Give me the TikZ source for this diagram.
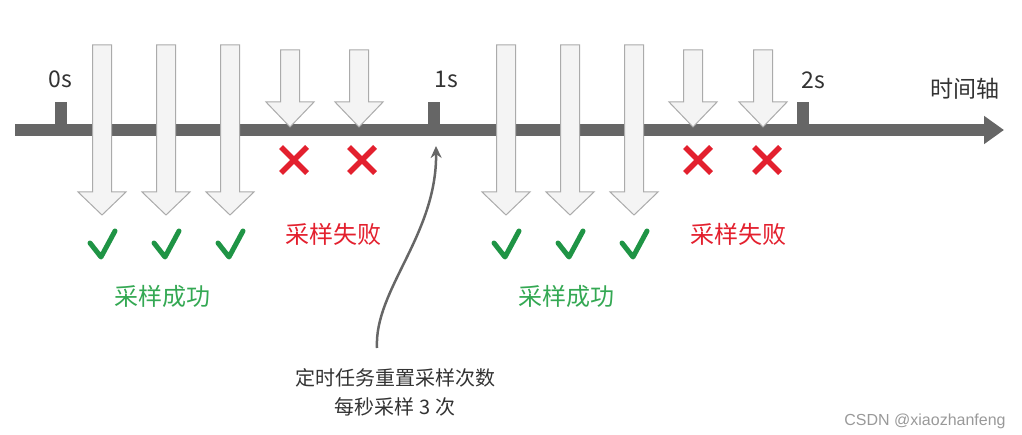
\documentclass[tikz,border=0pt]{standalone}
\usepackage{fontspec}
\setmainfont{Noto Sans CJK SC}
\newfontfamily\wmfont{Liberation Sans}
\usetikzlibrary{arrows.meta}

\definecolor{axisgray}{HTML}{666666}
\definecolor{arrowfill}{HTML}{F4F4F4}
\definecolor{arrowline}{HTML}{ABABAB}
\definecolor{okgreen}{HTML}{1F9445}
\definecolor{oktext}{HTML}{34A853}
\definecolor{badred}{HTML}{E3202E}
\definecolor{notegray}{HTML}{333333}

\tikzset{
  fatarrow/.style={fill=arrowfill, draw=arrowline, line width=1pt, line join=miter},
  okmark/.style={draw=okgreen, line width=5pt, line cap=round, line join=round},
  badmark/.style={draw=badred, line width=5.5pt},
  ticklabel/.style={font=\fontsize{23}{26}\selectfont, text=notegray},
  oklabel/.style={font=\fontsize{24}{28}\selectfont, text=oktext},
  badlabel/.style={font=\fontsize{24}{28}\selectfont, text=badred},
}

% x, top, head start, tip
\newcommand{\samplearrow}[4]{%
  \draw[fatarrow] (#1-9.5,#2) -- (#1+9.5,#2) -- (#1+9.5,#3) -- (#1+24,#3)
    -- (#1,#4) -- (#1-24,#3) -- (#1-9.5,#3) -- cycle;}

\begin{document}
\begin{tikzpicture}[x=1pt,y=-1pt]
  \useasboundingbox (0,0) rectangle (1022,435);

  % time axis
  \draw[axisgray, line width=12pt, -{Triangle[length=20pt,width=27pt]}] (15,130) -- (1004,130);
  \foreach \t in {61,434,803}
    \fill[axisgray] (\t-6,102) rectangle (\t+6,131);
  \node[ticklabel] (s0) at (60,79) {0s};
  \node[ticklabel] (s1) at (446,79) {1s};
  \node[ticklabel] (s2) at (813,80) {2s};
  \node[ticklabel] (axislabel) at (965,89) {时间轴};

  % samples that succeed
  \foreach \x in {102,166,230,506,570,634} {
    \samplearrow{\x}{45}{192}{215}
    \draw[okmark] (\x-12,243) -- (\x-1,257) -- (\x+13,231);
  }
  % samples that fail
  \foreach \x/\c in {290/294,359/362,693/698,763/767} {
    \samplearrow{\x}{50}{102}{127}
    \draw[badmark] (\c-13,147) -- (\c+13,173) (\c-13,173) -- (\c+13,147);
  }

  \node[oklabel] (ok1) at (162,296) {采样成功};
  \node[oklabel] (ok2) at (566,296) {采样成功};
  \node[badlabel] (bad1) at (333,234) {采样失败};
  \node[badlabel] (bad2) at (738,234) {采样失败};

  % reset note
  \node[align=center, text=notegray, font=\fontsize{20}{29}\selectfont] (note) at (395,392)
    {定时任务重置采样次数\\每秒采样 3 次};
  \coordinate (tail) at (377,348);
  \coordinate (reset) at (436,146);
  \draw[axisgray, line width=2.5pt, -{Stealth[length=12pt,width=11pt]}]
    (tail) .. controls (374,290) and (437,235) .. (reset);

  \node[text=black!40, font=\wmfont\fontsize{16}{18}\selectfont] (mark) at (925,421) {CSDN @xiaozhanfeng};
\end{tikzpicture}
\end{document}
